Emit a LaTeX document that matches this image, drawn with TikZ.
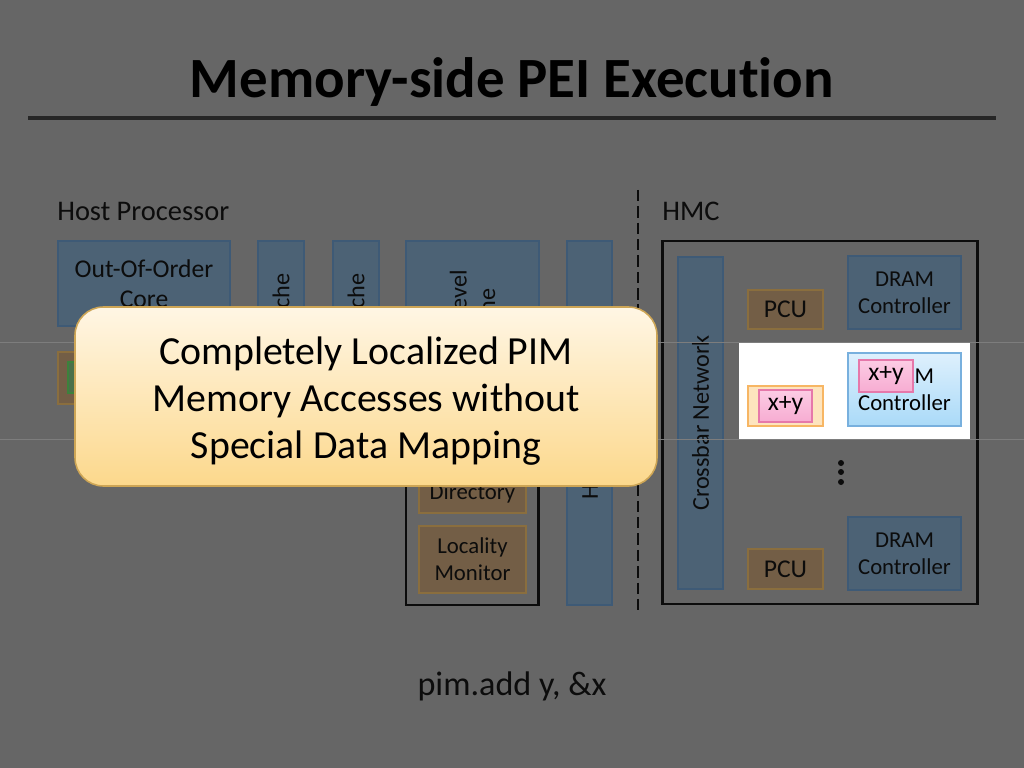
\documentclass[tikz,border=0pt]{standalone}
\usepackage{fontspec}
\setmainfont[Ligatures=NoCommon]{Carlito}

\newcommand{\pxl}{0.703125pt}

\definecolor{slidebg}{RGB}{102,102,102}
\definecolor{dimtext}{RGB}{12,12,12}
\definecolor{dimblue}{RGB}{76,98,117}
\definecolor{dimblueline}{RGB}{62,90,118}
\definecolor{dimbrown}{RGB}{115,94,70}
\definecolor{dimbrownline}{RGB}{138,110,62}
\definecolor{dimgreen}{RGB}{74,112,74}
\definecolor{dimgreenline}{RGB}{60,130,60}
\definecolor{hiblueA}{RGB}{222,240,253}
\definecolor{hiblueB}{RGB}{170,218,248}
\definecolor{hiblueline}{RGB}{120,176,222}
\definecolor{hiorange}{RGB}{253,228,190}
\definecolor{hiorangeline}{RGB}{247,182,100}
\definecolor{pinkA}{RGB}{252,204,228}
\definecolor{pinkB}{RGB}{247,172,210}
\definecolor{pinkline}{RGB}{230,120,170}
\definecolor{noteA}{RGB}{255,246,228}
\definecolor{noteB}{RGB}{252,216,140}
\definecolor{noteline}{RGB}{205,165,85}
\definecolor{seam}{RGB}{125,125,125}

\tikzset{
  sz/.style 2 args={minimum width=#1*\pxl, minimum height=#2*\pxl},
  blk/.style={inner sep=0pt, align=center, line width=0.8pt, text=dimtext,
    font=\fontsize{16}{19}\selectfont},
  bluebox/.style={blk, draw=dimblueline, fill=dimblue},
  brownbox/.style={blk, draw=dimbrownline, fill=dimbrown},
  greenbox/.style={blk, draw=dimgreenline, fill=dimgreen},
  tallbox/.style={bluebox, rotate=90, font=\fontsize{17}{20}\selectfont},
  frame/.style={draw=dimtext, line width=2.1pt},
  hiblue/.style={blk, text=black, draw=hiblueline, top color=hiblueA, bottom color=hiblueB},
  hiorange/.style={blk, text=black, draw=hiorangeline, fill=hiorange,
    font=\fontsize{18}{21}\selectfont},
  pinkbox/.style={blk, text=black, draw=pinkline, top color=pinkA, bottom color=pinkB,
    font=\fontsize{18}{21}\selectfont},
  notebox/.style={inner sep=0pt, align=center, draw=noteline, line width=1.1pt,
    rounded corners=20pt, top color=noteA, bottom color=noteB,
    font=\fontsize{28}{33}\selectfont},
  lbl/.style={text=dimtext, inner sep=0pt, font=\fontsize{20}{24}\selectfont}
}

\begin{document}
\begin{tikzpicture}[x=\pxl, y=-\pxl]
  \useasboundingbox (0,0) rectangle (1024,768);
  \fill[slidebg] (0,0) rectangle (1024,768);

  % title
  \node[anchor=base, inner sep=0pt, text=black, font=\bfseries\fontsize{40}{48}\selectfont]
    (title) at (512,98) {Memory-side PEI Execution};
  \draw[line width=2.8pt, draw=black!85] (28,118) -- (996,118);

  % host side
  \node[lbl, anchor=base west] (hostlbl) at (57,221) {Host Processor};
  \node[bluebox, sz={172}{85}, font=\fontsize{18}{21}\selectfont] (ooo) at (144,283.5) {Out-Of-Order\\Core};
  \node[tallbox, sz={152}{46}] (l1) at (281,317) {L1 Cache};
  \node[tallbox, sz={152}{46}] (l2) at (356,317) {L2 Cache};
  \node[tallbox, sz={154}{133}] (llc) at (472.5,318) {Last-Level\\Cache};
  \node[brownbox, sz={102}{52}] (hostpcu) at (109,378) {};
  \node[greenbox, sz={82}{31}] (hostalu) at (109,377.5) {};
  \draw[frame] (406,345) rectangle (538,605);
  \node[brownbox, sz={107}{39}] (dir) at (472.5,493.5) {Directory};
  \node[brownbox, sz={107}{67}] (locmon) at (472.5,559.5) {Locality\\Monitor};
  \node[tallbox, sz={364}{45}] (hmcctrl) at (589.5,423) {HMC Controller};

  \draw[dimtext, line width=1.5pt, dash pattern=on 8pt off 3.5pt] (638,190) -- (638,615);

  % HMC side
  \node[lbl, anchor=base west] (hmclbl) at (662,221) {HMC};
  \draw[frame] (662,241) rectangle (977,604);
  \node[tallbox, sz={332}{45}] (xbar) at (700.5,423) {Crossbar Network};
  \node[brownbox, sz={75}{39}, font=\fontsize{18}{21}\selectfont] (pcuA) at (785.5,309.5) {PCU};
  \node[bluebox, sz={113}{73}] (dramA) at (904.5,292.5) {DRAM\\Controller};
  \foreach \yy in {463,472,482}
    \fill[dimtext] (841,\yy) circle (3);
  \node[brownbox, sz={75}{40}, font=\fontsize{18}{21}\selectfont] (pcuC) at (785.5,569) {PCU};
  \node[bluebox, sz={113}{73}] (dramC) at (904.5,553.5) {DRAM\\Controller};

  % highlighted vault
  \draw[seam, line width=0.7pt] (0,342) -- (1024,342);
  \draw[seam, line width=0.7pt] (0,439) -- (1024,439);
  \fill[white] (739,343) rectangle (970,439);
  \node[hiorange, sz={75}{40}] (pcuB) at (785.5,406) {};
  \node[pinkbox, sz={53}{32}] (addB) at (785.5,406) {x+y};
  \node[hiblue, sz={113}{73}] (dramB) at (904.5,389.5) {DRAM\\Controller};
  \node[pinkbox, sz={54}{32}] (dataB) at (886,376) {x+y};

  % callout
  \node[notebox, sz={582}{179}] (note) at (366,396.5)
    {\rule{0pt}{26pt}Completely Localized PIM\\Memory Accesses without\\Special Data Mapping};

  \node[lbl, anchor=base, font=\fontsize{24}{28}\selectfont] (code) at (512,695) {pim.add y, \&x};
\end{tikzpicture}
\end{document}
